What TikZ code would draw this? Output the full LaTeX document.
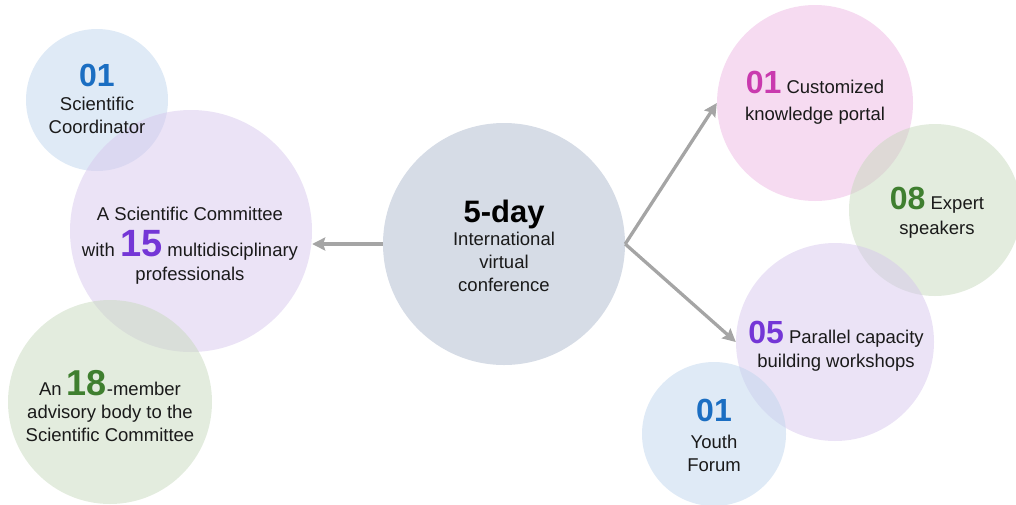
\documentclass[tikz,border=0pt]{standalone}
\usepackage{fontspec}
\setmainfont{Liberation Sans}
\usetikzlibrary{arrows.meta}

% bubble fills (drawn half transparent, so overlaps darken)
\definecolor{fillblue}{HTML}{BFD5ED}
\definecolor{fillpurple}{HTML}{D7C7ED}
\definecolor{fillgreen}{HTML}{C7D9BD}
\definecolor{fillpink}{HTML}{EDB7E3}
\definecolor{fillhub}{HTML}{ADB9CD}
% figure colours
\definecolor{numblue}{HTML}{1B6EC2}
\definecolor{numpurple}{HTML}{7436D6}
\definecolor{numgreen}{HTML}{3F7F2F}
\definecolor{numpink}{HTML}{C93AAE}
\definecolor{bodytext}{HTML}{1A1A1A}
\definecolor{arrowgray}{HTML}{A5A5A5}

% large bold figure inside a label
\newcommand\numtag[3]{{\color{#1}\fontsize{#2}{#2}\selectfont\bfseries #3}}

\begin{document}
\begin{tikzpicture}[x=1pt,y=-1pt,
  bubble/.style={circle, inner sep=0pt, minimum size=#1, fill opacity=0.5, draw=none},
  labeltext/.style={align=center, inner sep=0pt, text=bodytext,
    font=\fontsize{18.5}{23}\selectfont},
  link/.style={draw=arrowgray, line width=3.3pt,
    -{Stealth[length=13pt,width=13pt,inset=2pt]}}
]
\clip (0,0) rectangle (1016,504);

% bubbles
\node[bubble=142pt, fill=fillblue]   (coord)     at (97,100)  {};
\node[bubble=242pt, fill=fillpurple] (committee) at (191,231) {};
\node[bubble=204pt, fill=fillgreen]  (advisory)  at (110,402) {};
\node[bubble=242pt, fill=fillhub]    (hub)       at (504,244) {};
\node[bubble=196pt, fill=fillpink]   (portal)    at (815,103) {};
\node[bubble=172pt, fill=fillgreen]  (experts)   at (935,210) {};
\node[bubble=198pt, fill=fillpurple] (workshops) at (835,342) {};
\node[bubble=144pt, fill=fillblue]   (youth)     at (714,434) {};

% connectors from the conference hub
\draw[link] (hub.west) -- (hub.west -| committee.east);
\draw[link] (hub.east) -- (portal.west);
\draw[link] (hub.east) -- (workshops.west);

% labels
\node[labeltext] (coordtxt) at (97,99)
  {\numtag{numblue}{32}{01}\\[1pt]Scientific\\Coordinator};
\node[labeltext] (committeetxt) at (190,246)
  {A Scientific Committee\\[9pt]with \numtag{numpurple}{38}{15} multidisciplinary\\[1pt]professionals};
\node[labeltext] (advisorytxt) at (110,406)
  {An \numtag{numgreen}{36}{18}-member\\advisory body to the\\Scientific Committee};
\node[labeltext] (hubtxt) at (504,246)
  {\numtag{black}{31}{5-day}\\International\\virtual\\conference};
\node[labeltext] (portaltxt) at (815,98)
  {\numtag{numpink}{32}{01} Customized\\[4pt]knowledge portal};
\node[labeltext] (expertstxt) at (937,213)
  {\numtag{numgreen}{32}{08} Expert\\[2pt]speakers};
\node[labeltext] (workshopstxt) at (836,346)
  {\numtag{numpurple}{32}{05} Parallel capacity\\[1pt]building workshops};
\node[labeltext] (youthtxt) at (714,435)
  {\numtag{numblue}{32}{01}\\[4pt]Youth\\Forum};
\end{tikzpicture}
\end{document}
